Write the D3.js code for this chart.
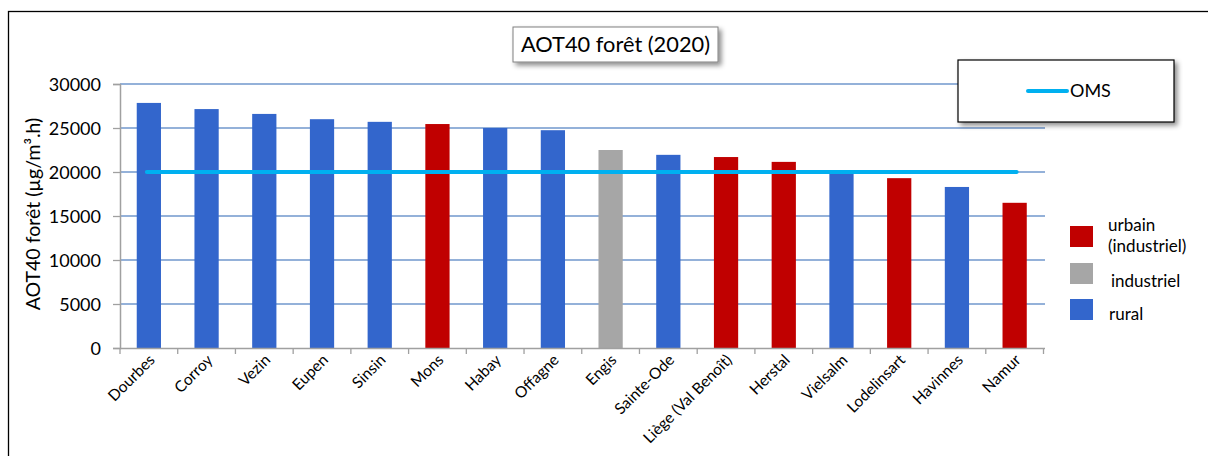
<!DOCTYPE html>
<html><head><meta charset="utf-8">
<script src="https://cdn.jsdelivr.net/npm/d3@7"></script>
<style>body{margin:0;background:#fff}svg{display:block}text{font-family:Lato,"Open Sans",sans-serif;fill:#000}</style>
</head><body><svg id="c" width="1208" height="456"></svg>
<script>
const categories = ["Dourbes","Corroy","Vezin","Eupen","Sinsin","Mons","Habay","Offagne","Engis","Sainte-Ode","Liège (Val Benoît)","Herstal","Vielsalm","Lodelinsart","Havinnes","Namur"];
const values = [27850,27150,26600,26000,25700,25450,25000,24750,22500,21950,21700,21150,19950,19300,18300,16500];
const types = ["rural","rural","rural","rural","rural","urbain","rural","rural","industriel","rural","urbain","urbain","rural","urbain","rural","urbain"];
const omsValue = 20000;
const yTicks = [0,5000,10000,15000,20000,25000,30000];
const typeNames = ["urbain","industriel","rural"];
const typeLabels = [["urbain","(industriel)"],["industriel"],["rural"]];
const typeColors = ["#c00000","#a6a6a6","#3366cc"];

const svg = d3.select("#c");
const defs = svg.append("defs");
const f = defs.append("filter").attr("id","sh").attr("x","-20%").attr("y","-30%").attr("width","150%").attr("height","180%");
f.append("feDropShadow").attr("dx",3).attr("dy",3).attr("stdDeviation",2.5).attr("flood-color","#000").attr("flood-opacity",0.45);

svg.append("rect").attr("x",8.5).attr("y",11.5).attr("width",1220).attr("height",460).attr("fill","#fff").attr("stroke","#000").attr("stroke-width",1.3);

const color = d3.scaleOrdinal(typeNames, typeColors);
const x = d3.scaleBand(categories,[120,1043.5]).paddingInner(0.58).paddingOuter(0.29);
const y = d3.scaleLinear([0,30000],[348,84]);

// gridlines
svg.append("g").selectAll("line").data(yTicks.filter(d=>d>0)).join("line")
  .attr("x1",120).attr("x2",1045).attr("y1",d=>y(d)).attr("y2",d=>y(d))
  .attr("stroke","#7197cc").attr("stroke-width",1.3);

// y axis
const ya = svg.append("g").attr("transform","translate(120,0)").call(d3.axisLeft(y).tickValues(yTicks).tickSize(7).tickPadding(12).tickFormat(d3.format("d")));
ya.select(".domain").attr("stroke","#a0a0a0").attr("stroke-width",1.5);
ya.selectAll(".tick line").attr("stroke","#a0a0a0").attr("stroke-width",1.3);
ya.selectAll(".tick text").attr("font-size",18).attr("font-family","Lato").attr("dy","0.34em");

// bars
svg.append("g").selectAll("rect").data(categories).join("rect")
  .attr("x",d=>x(d)).attr("width",x.bandwidth())
  .attr("y",(d,i)=>y(values[i])).attr("height",(d,i)=>y(0)-y(values[i]))
  .attr("fill",(d,i)=>color(types[i]));

// x axis
svg.append("line").attr("x1",120).attr("x2",1045).attr("y1",348.5).attr("y2",348.5).attr("stroke","#a0a0a0").attr("stroke-width",1.5);
const boundaries = d3.range(categories.length+1).map(i=>120+i*(1043.5-120)/categories.length);
svg.append("g").selectAll("line").data(boundaries).join("line")
  .attr("x1",d=>d).attr("x2",d=>d).attr("y1",348).attr("y2",354).attr("stroke","#a0a0a0").attr("stroke-width",1.3);
svg.append("g").selectAll("text").data(categories).join("text")
  .attr("transform",d=>`translate(${x(d)+x.bandwidth()/2+7},${361}) rotate(-45)`)
  .attr("text-anchor","end").attr("font-size",15.5).text(d=>d);

// OMS line
const cx = d=>x(d)+x.bandwidth()/2;
svg.append("line").attr("x1",cx(categories[0])-2).attr("x2",cx(categories[categories.length-1])+2)
  .attr("y1",y(omsValue)).attr("y2",y(omsValue)).attr("stroke","#00b0f0").attr("stroke-width",4).attr("stroke-linecap","round");

// y title
svg.append("text").attr("transform","translate(40,214) rotate(-90)").attr("text-anchor","middle").attr("font-size",19.5).text("AOT40 forêt (µg/m³.h)");

// title
const tg = svg.append("g");
tg.append("rect").attr("x",513).attr("y",27).attr("width",205).attr("height",35).attr("fill","#fff").attr("stroke","#808080").attr("stroke-width",1).attr("filter","url(#sh)");
tg.append("text").attr("x",615.5).attr("y",52).attr("text-anchor","middle").attr("font-size",21.8).text("AOT40 forêt (2020)");

// OMS legend
const lg = svg.append("g");
lg.append("rect").attr("x",958).attr("y",60).attr("width",216).attr("height",62).attr("fill","#fff").attr("stroke","#000").attr("stroke-width",1.2).attr("filter","url(#sh)");
lg.append("line").attr("x1",1028).attr("x2",1067).attr("y1",91).attr("y2",91).attr("stroke","#00b0f0").attr("stroke-width",4).attr("stroke-linecap","round");
lg.append("text").attr("x",1070).attr("y",97).attr("font-size",18).text("OMS");

// type legend
const sqY = [226,263,299];
const txY = [[231,252],[287],[320]];
const txX = [1108,1111,1109];
typeNames.forEach((t,i)=>{
  svg.append("rect").attr("x",1070).attr("y",sqY[i]).attr("width",23).attr("height",21).attr("fill",color(t));
  typeLabels[i].forEach((s,j)=>svg.append("text").attr("x",txX[i]).attr("y",txY[i][j]).attr("font-size",17).text(s));
});
</script></body></html>
